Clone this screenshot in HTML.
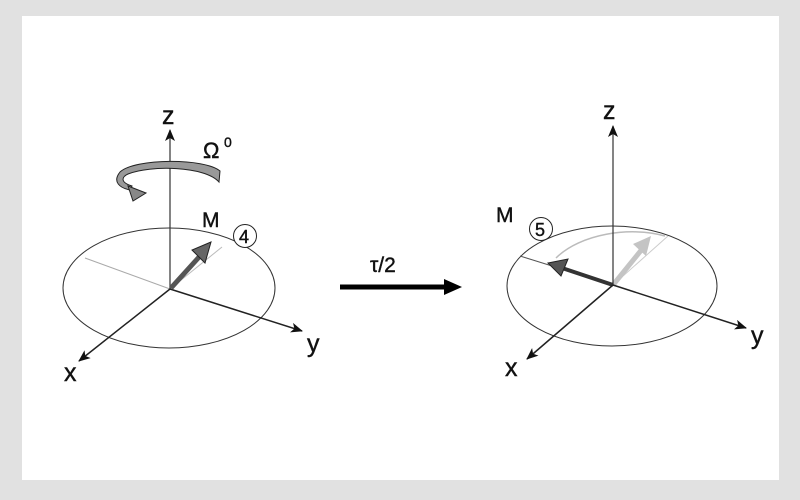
<!DOCTYPE html>
<html><head><style>
html,body{margin:0;padding:0;background:#e1e1e1;}
svg{display:block;}
text{font-family:"Liberation Sans",Arial,sans-serif;fill:#111;stroke:#111;stroke-width:0.4;}
</style></head><body>
<svg width="800" height="500" viewBox="0 0 800 500">
<rect x="0" y="0" width="800" height="500" fill="#e1e1e1"/>
<rect x="22" y="16" width="757" height="464" fill="#fff"/>
<defs>
<marker id="ah" markerWidth="12" markerHeight="10" refX="11" refY="5" orient="auto" markerUnits="userSpaceOnUse">
<path d="M0,0 L12,5 L0,10 L3,5 Z" fill="#111"/></marker>
</defs>
<!-- LEFT -->
<ellipse cx="169" cy="288" rx="106" ry="60" fill="none" stroke="#333" stroke-width="1"/>
<line x1="170" y1="289" x2="85" y2="258" stroke="#aaa" stroke-width="1"/>
<line x1="170" y1="289" x2="222" y2="247" stroke="#bbb" stroke-width="1"/>
<line x1="170" y1="289" x2="170" y2="130" stroke="#333" stroke-width="1.2" marker-end="url(#ah)"/>
<line x1="170" y1="289" x2="302" y2="331" stroke="#222" stroke-width="1.5" marker-end="url(#ah)"/>
<line x1="170" y1="289" x2="79" y2="361" stroke="#222" stroke-width="1.5" marker-end="url(#ah)"/>
<line x1="171" y1="288" x2="200" y2="256" stroke="#555" stroke-width="5"/>
<path d="M211,242 L192,250 L205,263 Z" fill="#666" stroke="#222" stroke-width="1"/>
<path d="M220,171 C205,158 135,158 120,172 C112,182 120,188 130,190 L132,186 C122,183 120,178 128,174 C150,165 205,166 219,182 Z" fill="#999" stroke="#222" stroke-width="1"/>
<path d="M128,186 L146,193 L133,201 Z" fill="#888" stroke="#222" stroke-width="1"/>
<text x="162" y="124" font-size="25">z</text>
<text x="203" y="158" font-size="22">Ω</text><text x="224" y="147" font-size="14">0</text>
<text x="202" y="227" font-size="21">M</text>
<circle cx="245" cy="236" r="11.5" fill="#fff" stroke="#222" stroke-width="1"/>
<text x="239" y="243" font-size="18">4</text>
<text x="307" y="352" font-size="25">y</text>
<text x="64" y="381" font-size="25">x</text>
<!-- MIDDLE -->
<line x1="340" y1="287" x2="448" y2="287" stroke="#000" stroke-width="5"/>
<path d="M444,279 L462,287 L444,295 Z" fill="#000"/>
<text x="370" y="272" font-size="21">τ/2</text>
<!-- RIGHT -->
<ellipse cx="612" cy="286" rx="105" ry="60" fill="none" stroke="#333" stroke-width="1"/>
<line x1="613" y1="285" x2="520" y2="256" stroke="#555" stroke-width="1"/>
<line x1="613" y1="285" x2="668" y2="236" stroke="#ccc" stroke-width="1"/>
<path d="M665,236 C630,226 580,234 556,258" fill="none" stroke="#bbb" stroke-width="1.5"/>
<line x1="613" y1="285" x2="643" y2="248" stroke="#c4c4c4" stroke-width="5"/>
<path d="M651,236 L633,244 L646,256 Z" fill="#c4c4c4"/>
<line x1="613" y1="285" x2="562" y2="268" stroke="#333" stroke-width="4"/>
<path d="M548,263 L568,259 L561,276 Z" fill="#555" stroke="#222" stroke-width="1"/>
<line x1="613" y1="285" x2="613" y2="126" stroke="#333" stroke-width="1.2" marker-end="url(#ah)"/>
<line x1="613" y1="285" x2="746" y2="328" stroke="#222" stroke-width="1.5" marker-end="url(#ah)"/>
<line x1="613" y1="285" x2="527" y2="359" stroke="#222" stroke-width="1.5" marker-end="url(#ah)"/>
<text x="603" y="119" font-size="25">z</text>
<text x="496" y="222" font-size="21">M</text>
<circle cx="541" cy="229" r="11.5" fill="#fff" stroke="#222" stroke-width="1"/>
<text x="535" y="236" font-size="18">5</text>
<text x="751" y="344" font-size="25">y</text>
<text x="505" y="376" font-size="25">x</text>
</svg>
</body></html>
